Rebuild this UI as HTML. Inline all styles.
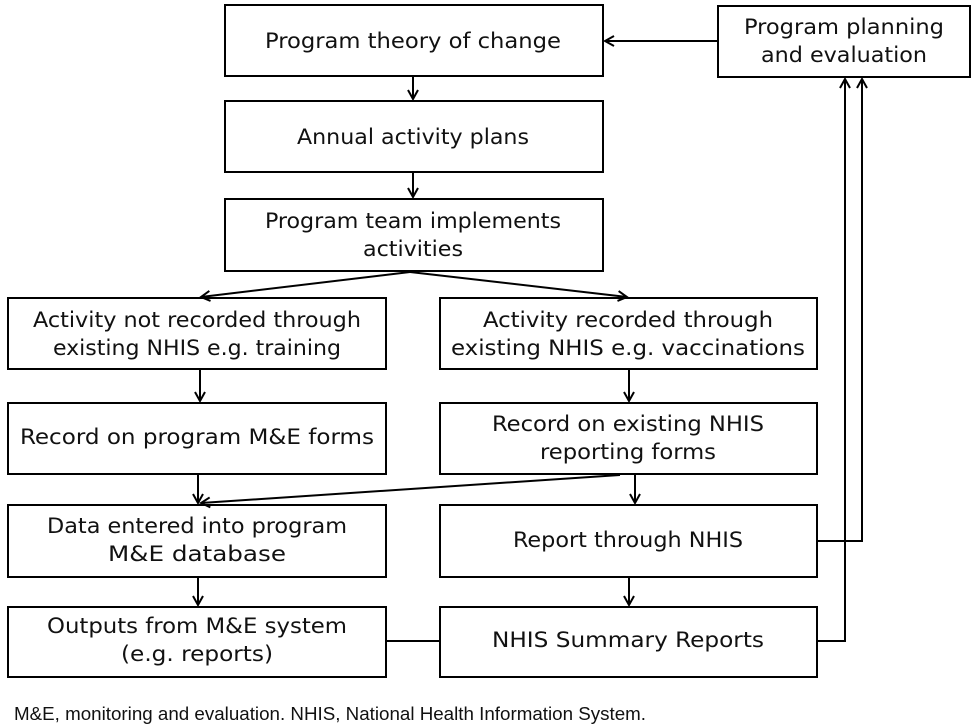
<!DOCTYPE html>
<html><head><meta charset="utf-8"><style>
html,body{margin:0;padding:0;background:#fff;}
svg{display:block;}
text{font-family:"DejaVu Sans Condensed","DejaVu Sans","Liberation Sans",sans-serif;font-size:21px;fill:#111;}
.cap{font-family:"Liberation Sans Narrow","Liberation Sans",sans-serif;font-size:18px;}
rect{fill:#fff;stroke:#000;stroke-width:2;}
line,polyline{stroke:#000;stroke-width:2;fill:none;}
</style></head><body>
<svg width="977" height="726" viewBox="0 0 977 726">
<defs><marker id="a" markerWidth="12" markerHeight="12" refX="10" refY="6" orient="auto" markerUnits="userSpaceOnUse"><path d="M1,1 L10,6 L1,11" fill="none" stroke="#000" stroke-width="2"/></marker></defs>
<rect x="225" y="5" width="378" height="71"/>
<rect x="718" y="6" width="252" height="71"/>
<rect x="225" y="101" width="378" height="71"/>
<rect x="225" y="199" width="378" height="72"/>
<rect x="8" y="298" width="378" height="71"/>
<rect x="440" y="298" width="377" height="71"/>
<rect x="8" y="403" width="378" height="71"/>
<rect x="440" y="403" width="377" height="71"/>
<rect x="8" y="505" width="378" height="72"/>
<rect x="440" y="505" width="377" height="72"/>
<rect x="8" y="607" width="378" height="70"/>
<rect x="440" y="607" width="377" height="70"/>

<line x1="718" y1="41" x2="605" y2="41" marker-end="url(#a)"/>
<line x1="413" y1="76" x2="413" y2="99" marker-end="url(#a)"/>
<line x1="413" y1="172" x2="413" y2="197" marker-end="url(#a)"/>
<line x1="410" y1="272" x2="201" y2="297" marker-end="url(#a)"/>
<line x1="410" y1="272" x2="627" y2="297" marker-end="url(#a)"/>
<line x1="200" y1="369" x2="200" y2="401" marker-end="url(#a)"/>
<line x1="629" y1="369" x2="629" y2="401" marker-end="url(#a)"/>
<line x1="198" y1="474" x2="198" y2="503" marker-end="url(#a)"/>
<line x1="620" y1="475" x2="201" y2="503" marker-end="url(#a)"/>
<line x1="635" y1="474" x2="635" y2="503" marker-end="url(#a)"/>
<line x1="198" y1="577" x2="198" y2="605" marker-end="url(#a)"/>
<line x1="629" y1="577" x2="629" y2="605" marker-end="url(#a)"/>
<line x1="386" y1="641" x2="440" y2="641"/>
<polyline points="817,541 862,541 862,79" marker-end="url(#a)"/>
<polyline points="817,641 845,641 845,79" marker-end="url(#a)"/>

<g text-anchor="middle">
<text x="413" y="48" textLength="296" lengthAdjust="spacingAndGlyphs">Program theory of change</text>
<text x="844" y="34" textLength="200" lengthAdjust="spacingAndGlyphs">Program planning</text>
<text x="844" y="62" textLength="166" lengthAdjust="spacingAndGlyphs">and evaluation</text>
<text x="413" y="144" textLength="232" lengthAdjust="spacingAndGlyphs">Annual activity plans</text>
<text x="413" y="228" textLength="296" lengthAdjust="spacingAndGlyphs">Program team implements</text>
<text x="413" y="256" textLength="100" lengthAdjust="spacingAndGlyphs">activities</text>
<text x="197" y="327" textLength="328" lengthAdjust="spacingAndGlyphs">Activity not recorded through</text>
<text x="197" y="355" textLength="288" lengthAdjust="spacingAndGlyphs">existing NHIS  e.g. training</text>
<text x="628" y="327" textLength="290" lengthAdjust="spacingAndGlyphs">Activity recorded through</text>
<text x="628" y="355" textLength="354" lengthAdjust="spacingAndGlyphs">existing NHIS  e.g. vaccinations</text>
<text x="197" y="444" textLength="354" lengthAdjust="spacingAndGlyphs">Record on program M&amp;E  forms</text>
<text x="628" y="431" textLength="272" lengthAdjust="spacingAndGlyphs">Record on existing NHIS</text>
<text x="628" y="459" textLength="176" lengthAdjust="spacingAndGlyphs">reporting forms</text>
<text x="197" y="533" textLength="300" lengthAdjust="spacingAndGlyphs">Data  entered into program</text>
<text x="197" y="561" textLength="178" lengthAdjust="spacingAndGlyphs">M&amp;E  database</text>
<text x="628" y="547" textLength="230" lengthAdjust="spacingAndGlyphs">Report through NHIS</text>
<text x="197" y="633" textLength="300" lengthAdjust="spacingAndGlyphs">Outputs from M&amp;E  system</text>
<text x="197" y="661" textLength="152" lengthAdjust="spacingAndGlyphs">(e.g. reports)</text>
<text x="628" y="647" textLength="272" lengthAdjust="spacingAndGlyphs">NHIS  Summary Reports</text>
</g>
<text class="cap" x="14" y="720" textLength="632" lengthAdjust="spacingAndGlyphs">M&amp;E, monitoring and evaluation. NHIS, National Health Information System.</text>
</svg>
</body></html>
